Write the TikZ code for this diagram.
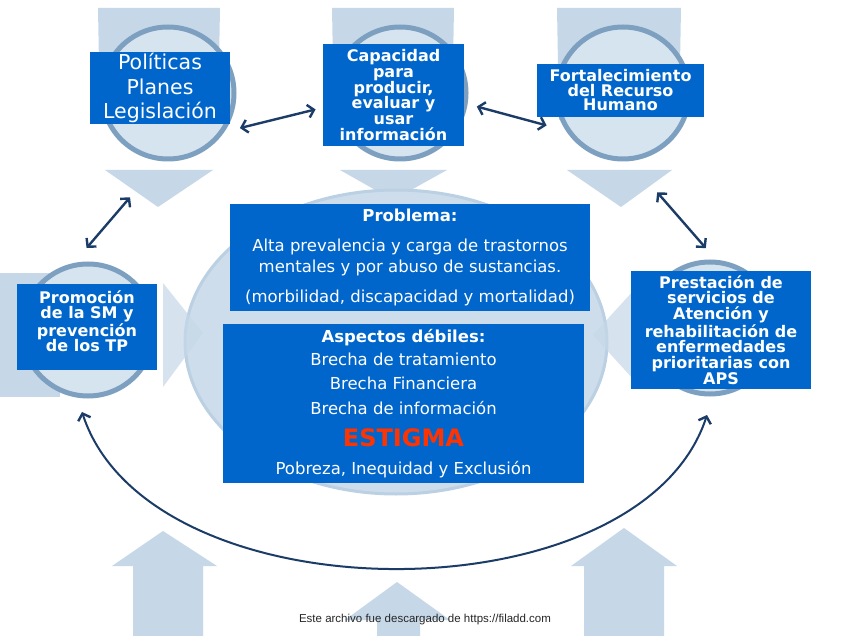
\documentclass[tikz,border=0pt]{standalone}
\usepackage{fontspec}
\setmainfont{DejaVu Sans}
\newfontfamily\footfont{Liberation Sans}
\usetikzlibrary{arrows.meta,positioning,calc}
\definecolor{boxblue}{RGB}{0,102,204}
\definecolor{linknavy}{RGB}{28,60,104}
\definecolor{paleblue}{RGB}{198,216,232}
\definecolor{ringblue}{RGB}{125,160,192}
\definecolor{discblue}{RGB}{214,228,240}
\definecolor{ovalblue}{RGB}{205,221,235}
\definecolor{estred}{RGB}{255,51,0}
\tikzset{
  info box/.style={
    rectangle, fill=boxblue, text=white, align=center, inner sep=0pt
  },
  small box/.style={
    info box, font=\bfseries\fontsize{16}{15.8}\selectfont
  },
  bg circle/.style={
    circle, draw=ringblue, line width=5pt, fill=discblue,
    inner sep=0pt, outer sep=0pt, minimum size=132pt
  },
  bg arrow/.style={
    fill=paleblue, draw=none
  },
  link/.style={
    draw=linknavy, line width=2.4pt,
    >={Straight Barb[length=6pt,width=13pt,line width=2.4pt]}, <->
  }
}

\begin{document}
\begin{tikzpicture}[x=1pt,y=-1pt]
\useasboundingbox (0,0) rectangle (848,636);
\fill[white] (0,0) rectangle (848,636);

% 上方三个向下的箭头
\fill[bg arrow] (98,8) -- (220,8) -- (218,120) -- (100,120) -- cycle;
\fill[bg arrow] (105,170) -- (213,170) -- (158,207) -- cycle;
\fill[bg arrow] (332,8) -- (454,8) -- (452,120) -- (334,120) -- cycle;
\fill[bg arrow] (340,170) -- (447,170) -- (393,200) -- cycle;
\fill[bg arrow] (557,8) -- (681,8) -- (679,120) -- (559,120) -- cycle;
\fill[bg arrow] (567,170) -- (672,170) -- (621,207) -- cycle;

% 下方三个向上的箭头
\fill[bg arrow] (112,566) -- (163,531) -- (217,566) -- (203,566) -- (203,636) -- (133,636) -- (133,566) -- cycle;
\fill[bg arrow] (345,620) -- (397,582) -- (450,620) -- (420,620) -- (420,636) -- (377,636) -- (377,620) -- cycle;
\fill[bg arrow] (571,566) -- (624,528) -- (677,566) -- (664,566) -- (664,636) -- (584,636) -- (584,566) -- cycle;

% 中间的椭圆
\filldraw[fill=ovalblue, draw=paleblue!85!ringblue, line width=3pt] (396,342) ellipse [x radius=211, y radius=152];

% 左右两个水平箭头
\fill[bg arrow] (0,273) -- (60,273) -- (60,397) -- (0,397) -- cycle;
\fill[bg arrow, fill opacity=0.7] (163,283) -- (203,333) -- (163,387) -- cycle;
\fill[bg arrow, fill opacity=0.7] (634,290) -- (593,335) -- (634,380) -- cycle;

% 五个圆
\node[bg circle] (cPol)   at (168,93)  {};
\node[bg circle] (cCap)   at (400,93)  {};
\node[bg circle] (cFort)  at (623,93)  {};
\node[bg circle] (cPromo) at (88,330)  {};
\node[bg circle] (cPrest) at (710,328) {};

% 双向箭头
\draw[link] ($(cPol)!80pt!(cPol.-26)$) -- ($(cCap)!86pt!(cCap.191)$);
\draw[link] ($(cCap)!78pt!(cCap.-10)$) -- ($(cFort)!83pt!(cFort.203)$);
\draw[link] ($(cPol)!111pt!(cPol.250)$) -- ($(cPromo)!82pt!(cPromo.91)$);
\draw[link] ($(cFort)!105pt!(cFort.-71)$) -- ($(cPrest)!80pt!(cPrest.93)$);
\draw[link, line width=2pt]
  ([xshift=-6pt,yshift=-16pt]cPromo.south) .. controls (150,620) and (640,620) .. ([xshift=-3pt,yshift=-21pt]cPrest.south);

% 蓝色方框
\node[info box, minimum width=140pt, minimum height=72pt,
      font=\fontsize{20.5}{24.5}\selectfont] (pol) at (160,88)
  {Políticas\\Planes\\Legislación};
\node[small box, minimum width=141pt, minimum height=102pt] (cap) at (393.5,95)
  {Capacidad\\para\\producir,\\evaluar y\\usar\\información};
\node[small box, minimum width=167pt, minimum height=53pt,
      font=\bfseries\fontsize{16}{14.5}\selectfont] (fort) at (620.5,90.5)
  {Fortalecimiento\\del Recurso\\Humano};
\node[small box, minimum width=140pt, minimum height=86pt] (promo) at (87,327)
  {Promoción\\de la SM y\\prevención\\de los TP\\[-4pt]\mbox{}};
\node[small box, minimum width=180pt, minimum height=118pt] (prest) at (721,330)
  {Prestación de\\servicios de\\Atención y\\rehabilitación de\\enfermedades\\prioritarias con\\APS};

\node[info box, minimum width=360pt, minimum height=107pt,
      font=\fontsize{16.5}{21}\selectfont] (prob) at (410,257.5)
  {{\bfseries Problema:}\\[9pt]
   Alta prevalencia y carga de trastornos\\
   mentales y por abuso de sustancias.\\[9pt]
   (morbilidad, discapacidad y mortalidad)};
\node[info box, minimum width=361pt, minimum height=159pt,
      font=\fontsize{16.5}{24.5}\selectfont] (asp) at (403.5,403.5)
  {{\bfseries Aspectos débiles:}\\[-1.5pt]
   Brecha de tratamiento\\
   Brecha Financiera\\
   Brecha de información\\[7.5pt]
   {\fontsize{24}{24}\selectfont\bfseries\color{estred}ESTIGMA}\\[3.5pt]
   Pobreza, Inequidad y Exclusión};

% 页脚
\node[font=\footfont\fontsize{11.5}{13}\selectfont, text=black!85] (foot) at (425,620)
  {Este archivo fue descargado de https://filadd.com};

\end{tikzpicture}
\end{document}
